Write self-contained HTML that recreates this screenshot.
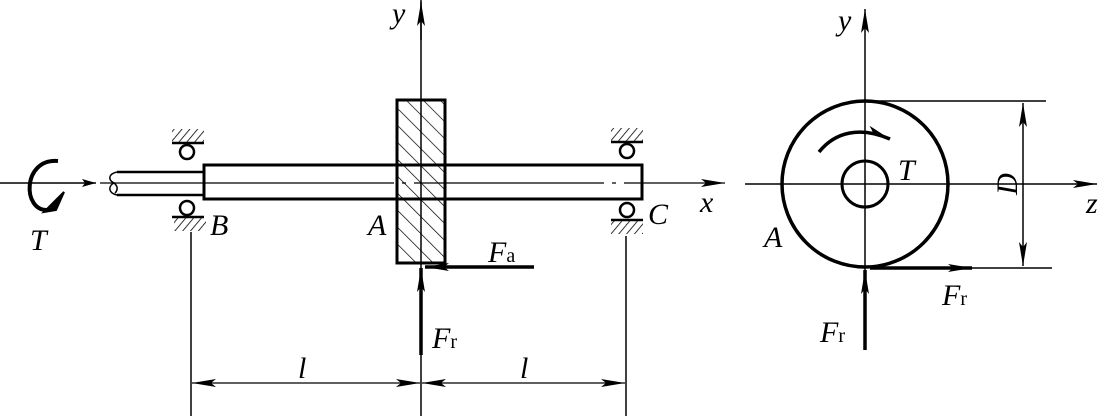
<!DOCTYPE html>
<html><head><style>body{margin:0;background:#fff}svg{display:block}
text{font-family:"Liberation Serif",serif;font-style:italic;fill:#000}</style></head><body>
<svg width="1104" height="416" viewBox="0 0 1104 416" xmlns="http://www.w3.org/2000/svg">
<defs>
<marker id="ahb" viewBox="0 0 14 8" refX="14" refY="4" markerWidth="14" markerHeight="8" markerUnits="userSpaceOnUse" orient="auto-start-reverse"><path d="M0,0 L14,4 L0,8 L3,4z" fill="#000"/></marker>
<marker id="ahd" viewBox="0 0 24 8" refX="24" refY="4" markerWidth="24" markerHeight="8" markerUnits="userSpaceOnUse" orient="auto-start-reverse"><path d="M0,0 L24,4 L0,8 L5,4z" fill="#000"/></marker>
<pattern id="hatch" width="12" height="12" patternUnits="userSpaceOnUse" patternTransform="rotate(-45)"><line x1="0" y1="0" x2="0" y2="12" stroke="#000" stroke-width="1.4"/></pattern>
<pattern id="gh" width="6" height="6" patternUnits="userSpaceOnUse" patternTransform="rotate(40)"><line x1="0" y1="0" x2="0" y2="6" stroke="#000" stroke-width="1.6"/></pattern>
</defs>
<g stroke="#000" fill="none">
<line x1="0" y1="183" x2="96" y2="183" stroke-width="1.5" marker-end="url(#ahb)"/>
<path d="M58,161 C22,158 22,212 48,210" stroke-width="4"/>
<path d="M44,212 L64,192 L56,210z" fill="#000" stroke-width="2"/>
<line x1="100" y1="183" x2="725" y2="183" stroke-width="1.2" stroke-dasharray="160,8,4,8" marker-end="url(#ahd)"/>
<path d="M204,172 L117,172 M117,195 L204,195" stroke-width="2.5"/>
<path d="M117,172 C108,174 108,180 114,183 C108,186 108,193 117,195 M114,183 C118,186 118,190 115,193" stroke-width="1.5"/>
<rect x="204" y="165" width="438" height="34" stroke-width="3" fill="#fff"/>
<line x1="204" y1="183" x2="642" y2="183" stroke-width="1.2" stroke-dasharray="190,8,4,8"/>
<rect x="397" y="100" width="48" height="163" fill="url(#hatch)" stroke-width="3"/>
<line x1="421" y1="0" x2="421" y2="416" stroke-width="1.5"/>
<line x1="421" y1="40" x2="421" y2="2" stroke-width="1.5" marker-end="url(#ahd)"/>
<g stroke-width="2.5">
<rect x="172" y="129" width="32" height="13" fill="url(#gh)" stroke="none"/>
<line x1="172" y1="143" x2="204" y2="143"/><circle cx="187" cy="152" r="7"/>
<circle cx="187" cy="208" r="7"/><line x1="172" y1="217" x2="204" y2="217"/>
<rect x="174" y="218" width="32" height="13" fill="url(#gh)" stroke="none"/>
<rect x="611" y="128" width="32" height="13" fill="url(#gh)" stroke="none"/>
<line x1="611" y1="142" x2="643" y2="142"/><circle cx="627" cy="151" r="7"/>
<circle cx="627" cy="210" r="7"/><line x1="611" y1="220" x2="643" y2="220"/>
<rect x="611" y="221" width="32" height="13" fill="url(#gh)" stroke="none"/>
</g>
<line x1="534" y1="267" x2="425" y2="267" stroke-width="3.5" marker-end="url(#ahd)"/>
<line x1="421" y1="355" x2="421" y2="268" stroke-width="3.5" marker-end="url(#ahd)"/>
<line x1="191" y1="232" x2="191" y2="416" stroke-width="1.5"/>
<line x1="626" y1="236" x2="626" y2="416" stroke-width="1.5"/>
<line x1="192" y1="383" x2="420" y2="383" stroke-width="1.3" marker-start="url(#ahd)" marker-end="url(#ahd)"/>
<line x1="422" y1="383" x2="625" y2="383" stroke-width="1.3" marker-start="url(#ahd)" marker-end="url(#ahd)"/>
<line x1="745" y1="184" x2="1097" y2="184" stroke-width="1.5" marker-end="url(#ahd)"/>
<line x1="865" y1="350" x2="865" y2="9" stroke-width="1.5" marker-end="url(#ahd)"/>
<circle cx="865" cy="184" r="83" stroke-width="3.5"/>
<circle cx="865" cy="184" r="23" stroke-width="3"/>
<path d="M819,152 C835,132 860,126 890,139" stroke-width="3.5" marker-end="url(#ahd)"/>
<line x1="870" y1="101" x2="1046" y2="101" stroke-width="1.5"/>
<line x1="870" y1="268" x2="1052" y2="268" stroke-width="1.5"/>
<line x1="1023" y1="103" x2="1023" y2="266" stroke-width="1.5" marker-start="url(#ahd)" marker-end="url(#ahd)"/>
<line x1="870" y1="268" x2="972" y2="268" stroke-width="3.5" marker-end="url(#ahd)"/>
<line x1="865" y1="350" x2="865" y2="270" stroke-width="3.5" marker-end="url(#ahd)"/>
</g>
<g font-size="30">
<text x="392" y="23">y</text>
<text x="838" y="30">y</text>
<text x="30" y="250">T</text>
<text x="210" y="235">B</text>
<text x="368" y="235">A</text>
<text x="648" y="224">C</text>
<text x="700" y="212">x</text>
<text x="1086" y="213">z</text>
<text x="898" y="180">T</text>
<text x="764" y="247">A</text>
<text x="488" y="262">F<tspan font-style="normal" font-size="20">a</tspan></text>
<text x="432" y="348">F<tspan font-style="normal" font-size="20">r</tspan></text>
<text x="942" y="305">F<tspan font-style="normal" font-size="20">r</tspan></text>
<text x="820" y="342">F<tspan font-style="normal" font-size="20">r</tspan></text>
<text x="298" y="378">l</text>
<text x="520" y="378">l</text>
<text transform="translate(1017,184) rotate(-90)" text-anchor="middle">D</text>
</g>
</svg>
</body></html>
